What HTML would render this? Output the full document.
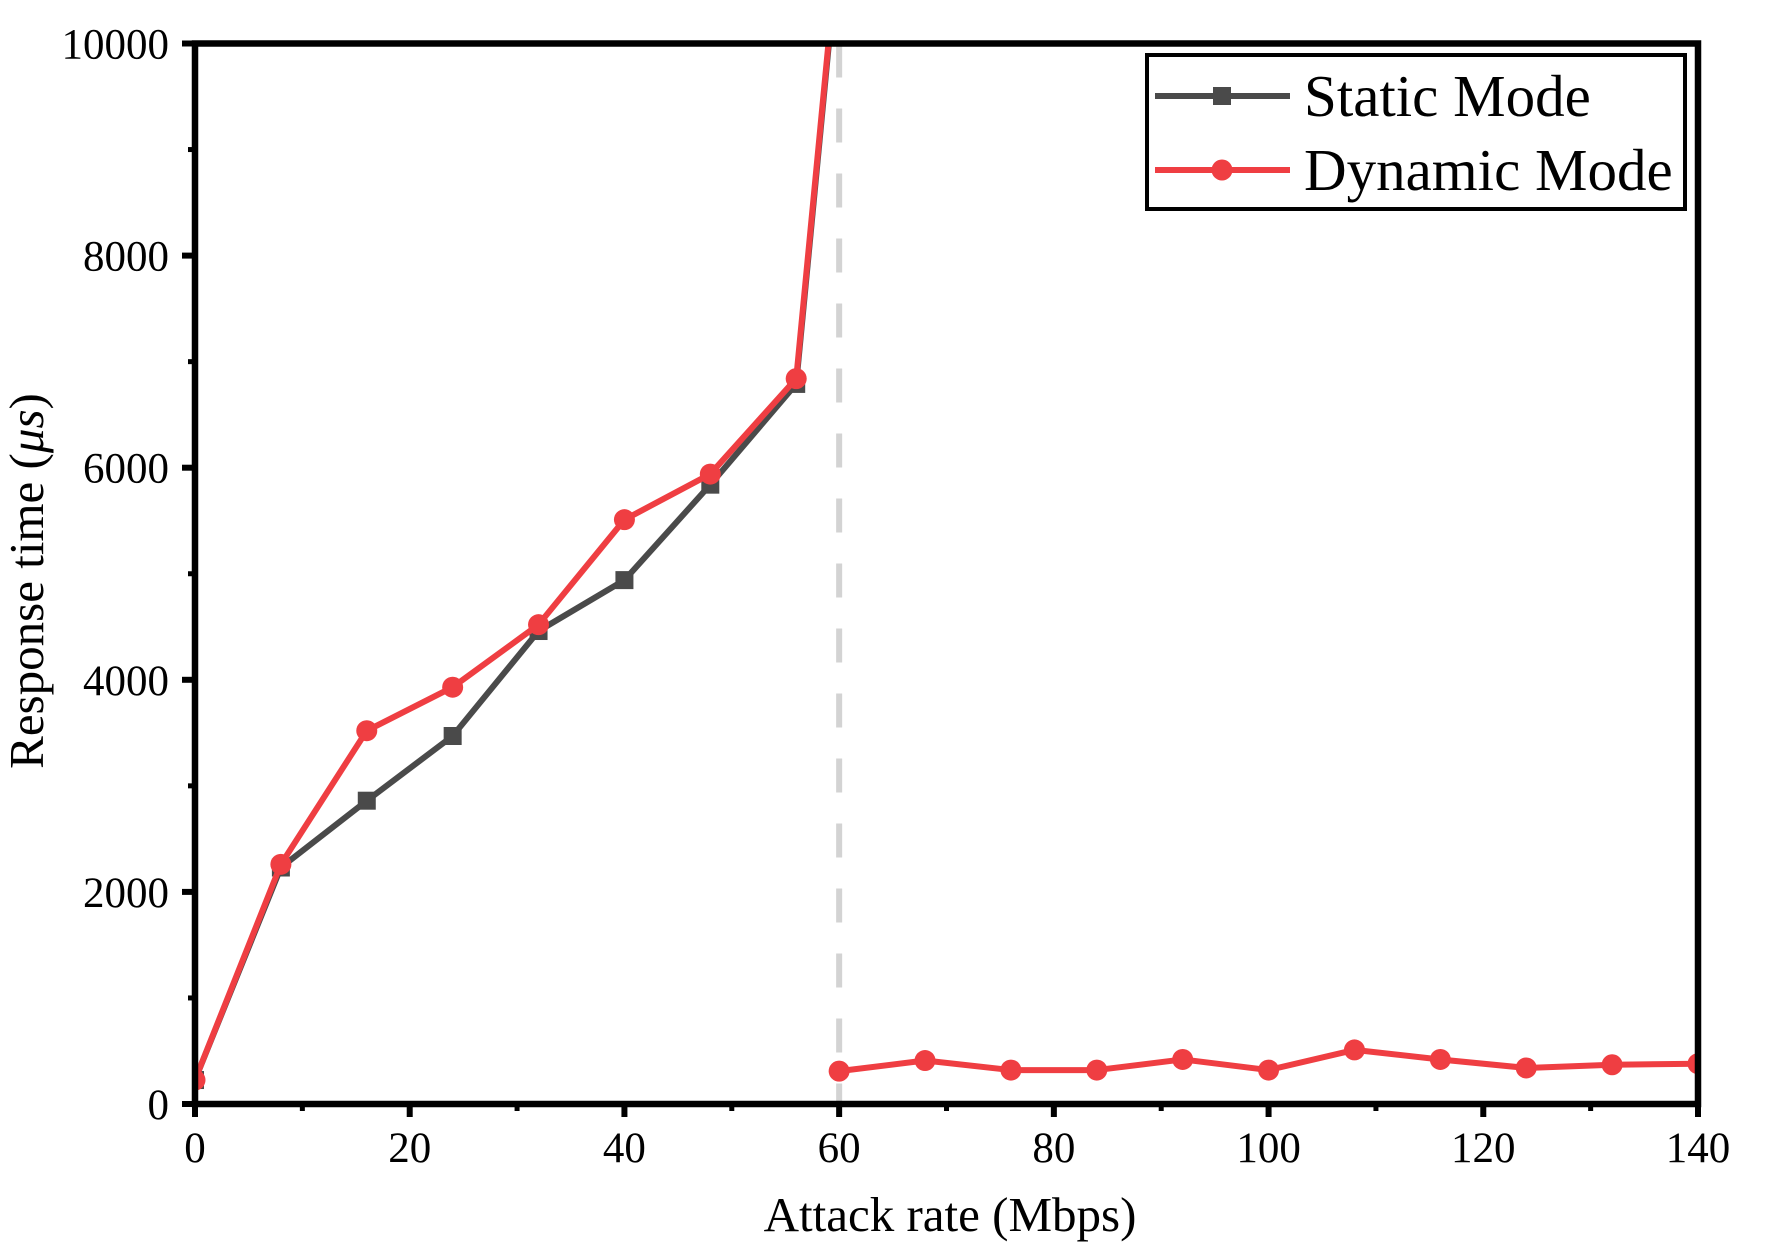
<!DOCTYPE html>
<html><head><meta charset="utf-8">
<style>
html,body{margin:0;padding:0;background:#fff;}
svg{display:block;font-family:"Liberation Serif",serif;}
</style></head>
<body>
<svg id="chart" width="1766" height="1249" viewBox="0 0 1766 1249" xmlns="http://www.w3.org/2000/svg">
<defs><clipPath id="plotclip"><rect x="195" y="43.5" width="1503" height="1060.5"/></clipPath></defs>
<g id="grid"></g>
<g id="marks" clip-path="url(#plotclip)"></g>
<g id="axes"></g>
<text x="950" y="1231" font-size="49" text-anchor="middle">Attack rate (Mbps)</text>
<text transform="translate(43,581) rotate(-90)" font-size="49" text-anchor="middle">Response time (<tspan font-style="italic">μs</tspan>)</text>
<g>
<rect x="1147" y="55" width="538" height="154" fill="#fff" stroke="#000" stroke-width="4"/>
<g>
<line x1="1155" y1="96" x2="1290" y2="96" stroke="#4a4a4a" stroke-width="6"/>
<rect x="1213" y="87" width="18" height="18" fill="#4a4a4a"/>
<text x="1304" y="116" font-size="59">Static Mode</text>
</g>
<g>
<line x1="1155" y1="170" x2="1290" y2="170" stroke="#ef3e42" stroke-width="6"/>
<circle cx="1222" cy="170" r="10.5" fill="#ef3e42"/>
<text x="1304" y="190" font-size="59">Dynamic Mode</text>
</g>
</g>
</svg>
<script>
const xTicks = [0, 20, 40, 60, 80, 100, 120, 140];
const yTicks = [0, 2000, 4000, 6000, 8000, 10000];
const staticX = [0, 8, 16, 24, 32, 40, 48, 56, 60];
const staticY = [226, 2230, 2860, 3470, 4460, 4940, 5840, 6790, 11000];
const dynamicX1 = [0, 8, 16, 24, 32, 40, 48, 56, 60];
const dynamicY1 = [226, 2260, 3520, 3930, 4520, 5510, 5940, 6840, 11050];
const dynamicX2 = [60, 68, 76, 84, 92, 100, 108, 116, 124, 132, 140];
const dynamicY2 = [310, 410, 320, 320, 420, 320, 510, 420, 340, 370, 380];
const dividerX = 60;

const L = 195, R = 1698, T = 43.5, B = 1104;
const xs = v => L + (v - 0) / 140 * (R - L);
const ys = v => B - v / 10000 * (B - T);
const NS = 'http://www.w3.org/2000/svg';
function mk(tag, attrs, parent) {
  const e = document.createElementNS(NS, tag);
  for (const k in attrs) e.setAttribute(k, attrs[k]);
  parent.appendChild(e);
  return e;
}
const marks = document.getElementById('marks');
const axes = document.getElementById('axes');

const dv = mk('line', {x1: xs(dividerX), x2: xs(dividerX), y1: T, y2: B, stroke: '#d3d3d3', 'stroke-width': 6, 'stroke-dasharray': '34 31'}, marks);



function series(xArr, yArr, color, kind, name) {
  const g = mk('g', {}, marks);
  
  
  const pts = xArr.map((x, i) => xs(x) + ',' + ys(yArr[i])).join(' ');
  mk('polyline', {points: pts, fill: 'none', stroke: color, 'stroke-width': 6, 'stroke-linejoin': 'round'}, g);
  xArr.forEach((x, i) => {
    let m;
    if (kind === 'square') m = mk('rect', {x: xs(x) - 9, y: ys(yArr[i]) - 9, width: 18, height: 18, fill: color}, g);
    else m = mk('circle', {cx: xs(x), cy: ys(yArr[i]), r: 10.5, fill: color}, g);
    
    
  });
}
series(staticX, staticY, '#4a4a4a', 'square', 'static-mode-series');
series(dynamicX1, dynamicY1, '#ef3e42', 'circle', 'dynamic-mode-series');
series(dynamicX2, dynamicY2, '#ef3e42', 'circle', 'dynamic-mode-series-recovered');

const frame = mk('rect', {x: L, y: T, width: R - L, height: B - T, fill: 'none', stroke: '#000', 'stroke-width': 6.5}, axes);



xTicks.forEach(v => {
  const t = mk('line', {x1: xs(v), x2: xs(v), y1: B, y2: B + 13, stroke: '#000', 'stroke-width': 6}, axes);
  
  
  const lb = mk('text', {x: xs(v), y: 1162, 'font-size': 43, 'text-anchor': 'middle'}, axes);
  lb.textContent = v;
  
  
});
for (let i = 0; i < xTicks.length - 1; i++) {
  const v = (xTicks[i] + xTicks[i + 1]) / 2;
  const t = mk('line', {x1: xs(v), x2: xs(v), y1: B, y2: B + 7, stroke: '#000', 'stroke-width': 5}, axes);
  
  
}
yTicks.forEach(v => {
  const t = mk('line', {x1: L - 13, x2: L, y1: ys(v), y2: ys(v), stroke: '#000', 'stroke-width': 6}, axes);
  
  
  const lb = mk('text', {x: 169, y: ys(v) + 15, 'font-size': 43, 'text-anchor': 'end'}, axes);
  lb.textContent = v;
  
  
});
for (let i = 0; i < yTicks.length - 1; i++) {
  const v = (yTicks[i] + yTicks[i + 1]) / 2;
  const t = mk('line', {x1: L - 7, x2: L, y1: ys(v), y2: ys(v), stroke: '#000', 'stroke-width': 5}, axes);
  
  
}
</script>
</body></html>
